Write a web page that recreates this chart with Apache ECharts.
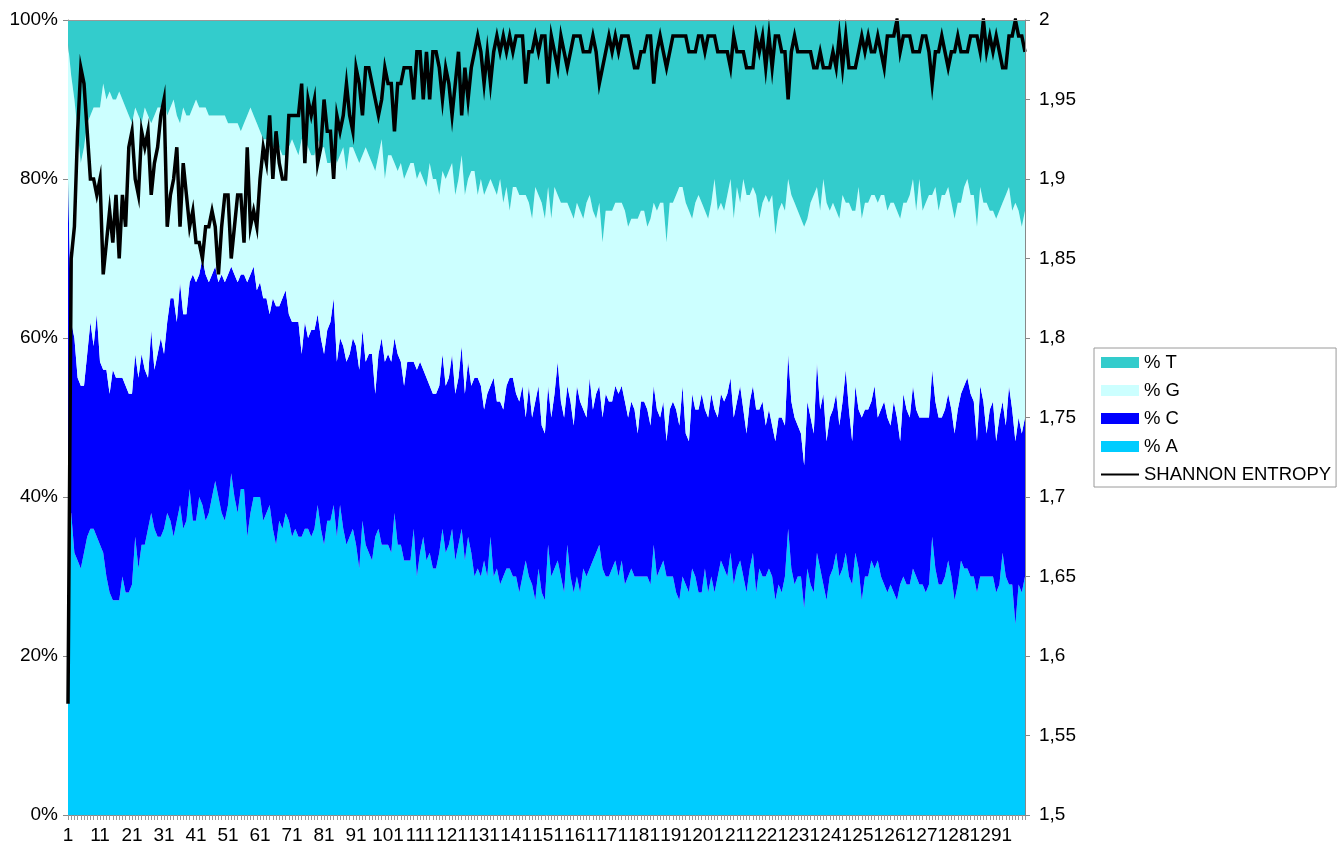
<!DOCTYPE html>
<html>
<head>
<meta charset="utf-8">
<script src="https://cdn.jsdelivr.net/npm/echarts@6/dist/echarts.min.js"></script>
<style>
html,body{margin:0;padding:0;background:#fff;}
#chart{width:1341px;height:850px;}
</style>
</head>
<body>
<div id="chart"></div>
<script>
// Position categories 1..300
const positions = Array.from({length: 300}, (_, i) => String(i + 1));

const pctA = [
38,38,33,32,31,33,35,36,36,35, 34,33,30,28,27,27,27,30,28,28,
29,35,31,34,34,36,38,36,35,35, 36,38,37,35,37,39,36,37,41,37,
37,40,39,37,38,40,42,40,38,37, 39,43,40,38,41,41,35,38,40,40,
40,37,38,39,36,34,37,36,38,37, 35,36,35,35,36,36,35,36,39,36,
34,37,37,39,35,39,36,34,35,36, 34,31,37,34,33,32,35,36,34,34,
34,33,38,34,34,32,32,32,36,30, 33,35,32,33,31,31,33,36,33,34,
36,32,34,36,32,35,33,30,31,30, 32,30,35,30,31,29,30,31,31,30,
30,28,30,32,30,29,27,31,28,27, 34,30,31,32,30,28,34,30,28,30,
28,31,30,31,32,33,34,31,30,30, 31,32,30,32,29,30,31,30,30,30,
30,30,29,34,30,31,32,30,30,30, 28,27,30,29,28,31,30,28,28,31,
28,30,28,30,32,31,30,33,29,31, 32,30,28,31,33,28,31,30,30,31,
30,27,29,28,30,36,31,29,30,30, 26,31,29,28,33,31,29,27,30,31,
33,30,31,33,30,29,33,31,27,30, 30,32,31,32,30,29,28,29,28,27,
29,30,29,29,31,30,29,29,28,29, 35,31,29,29,30,32,30,27,29,32,
31,31,30,30,28,30,30,30,30,30, 28,29,33,30,29,29,24,29,28,30
];
const pctC = [
42,24,27,23,23,21,23,26,23,28, 23,23,26,25,29,28,28,25,26,25,
24,23,24,24,22,19,23,20,23,25, 22,24,28,30,25,28,27,26,26,31,
30,28,31,31,29,28,27,27,30,30, 29,26,28,29,27,27,32,30,29,26,
27,28,27,24,29,30,27,29,28,26, 27,26,27,23,26,24,26,25,24,24,
24,24,25,26,22,21,23,23,23,24, 25,25,24,23,25,26,18,22,26,23,
24,24,22,24,23,22,25,25,21,26, 24,21,23,21,22,22,21,22,21,21,
22,21,21,23,21,22,21,25,24,24, 19,23,19,25,21,23,21,23,24,25,
23,24,24,18,24,21,25,23,21,21, 20,20,22,25,22,22,20,22,21,24,
24,20,20,24,19,20,20,19,23,22, 21,22,23,22,23,20,21,21,18,22,
22,21,20,20,21,19,20,17,21,22, 23,22,24,19,19,22,21,23,25,20,
22,23,23,20,21,21,23,22,21,21, 22,21,20,21,21,23,20,22,19,20,
19,20,21,22,19,22,21,21,19,18, 18,21,21,20,24,20,24,20,20,20,
20,19,21,23,21,18,21,20,23,21, 21,20,23,18,21,23,22,20,24,23,
18,23,22,21,23,21,21,21,22,21, 21,21,21,21,21,21,21,21,22,21,
23,24,23,22,19,24,22,18,21,22, 19,21,19,19,25,22,23,21,20,20
];
const pctG = [
17,31,30,31,28,30,29,26,30,26, 32,36,34,38,34,35,36,35,35,35,
34,31,33,29,33,33,26,32,31,29, 32,26,24,25,26,20,26,25,21,21,
23,21,19,21,21,20,19,21,20,21, 19,18,19,20,18,19,21,21,19,21,
19,20,20,22,19,20,20,18,17,21, 23,22,21,27,23,24,22,22,22,24,
26,21,20,19,25,23,25,24,26,24, 24,26,22,27,25,24,28,25,25,23,
25,26,22,23,25,26,24,25,25,24, 24,24,24,28,27,27,24,23,26,26,
24,25,25,24,25,23,27,26,23,26, 27,26,26,24,26,28,26,25,21,24,
26,26,24,28,23,25,27,24,28,27, 25,25,26,21,25,27,23,24,26,23,
24,24,27,23,25,22,23,22,23,24, 24,23,24,23,24,24,23,24,27,24,
24,23,26,23,25,27,25,25,26,25, 27,30,25,29,29,22,26,27,24,25,
25,24,29,26,24,24,25,25,25,27, 23,29,30,26,25,27,24,25,29,26,
29,26,26,27,27,22,26,27,27,27, 30,23,27,30,22,25,27,30,26,26,
23,26,26,21,26,29,22,28,25,26, 26,26,24,27,27,26,26,28,25,26,
28,24,26,28,26,25,30,26,27,28, 22,27,26,28,27,26,26,27,26,24,
25,25,25,26,27,25,25,29,25,24, 28,26,25,29,25,25,30,26,26,26
];
const pctT = [
3,7,10,14,18,16,13,12,11,11, 11,8,10,9,10,10,9,10,11,12,
13,11,12,13,11,12,13,12,11,11, 10,12,11,10,12,13,11,12,12,11,
10,11,11,11,12,12,12,12,12,12, 13,13,13,13,14,13,12,11,12,13,
14,15,15,15,16,16,16,17,17,16, 15,16,17,15,15,16,17,17,15,16,
16,18,18,16,18,17,16,19,16,16, 17,18,17,16,17,18,19,17,15,20,
17,17,18,19,18,20,19,18,18,20, 19,20,21,18,20,20,22,19,20,19,
18,22,20,17,22,20,19,19,22,20, 22,21,20,21,22,20,23,21,24,21,
21,22,22,22,23,25,21,22,23,25, 21,25,21,22,23,23,23,24,25,23,
24,25,23,22,24,25,23,28,24,24, 24,23,23,23,24,26,25,25,25,24,
24,26,25,23,24,23,23,28,23,23, 22,21,21,23,24,25,23,22,23,24,
25,23,20,24,23,24,22,20,25,21, 23,20,22,22,21,22,25,23,22,23,
22,27,24,23,24,20,22,23,24,25, 26,25,23,22,21,24,20,23,24,23,
24,25,22,23,23,24,24,21,25,23, 23,22,22,23,22,22,24,23,23,24,
25,23,23,22,20,24,20,24,23,22, 22,21,24,22,22,21,23,25,23,23,
21,20,22,22,26,21,23,23,24,24, 25,24,23,22,21,24,23,24,26,24
];
const entropy = [
1.57,1.85,1.87,1.93,1.97,1.96,1.93,1.90,1.90,1.89, 1.90,1.84,1.86,1.88,1.86,1.89,1.85,1.89,1.87,1.92,
1.93,1.90,1.89,1.93,1.92,1.93,1.89,1.91,1.92,1.94, 1.95,1.87,1.89,1.90,1.92,1.87,1.91,1.89,1.87,1.88,
1.86,1.86,1.85,1.87,1.87,1.88,1.87,1.84,1.87,1.89, 1.89,1.85,1.87,1.89,1.89,1.86,1.92,1.87,1.88,1.87,
1.90,1.92,1.91,1.94,1.90,1.93,1.91,1.90,1.90,1.94, 1.94,1.94,1.94,1.96,1.91,1.95,1.94,1.95,1.91,1.92,
1.95,1.93,1.93,1.90,1.94,1.93,1.94,1.96,1.94,1.93, 1.97,1.96,1.94,1.97,1.97,1.96,1.95,1.94,1.95,1.97,
1.96,1.96,1.93,1.96,1.96,1.97,1.97,1.97,1.95,1.98, 1.98,1.95,1.98,1.95,1.98,1.98,1.97,1.95,1.97,1.96,
1.94,1.96,1.98,1.94,1.97,1.95,1.97,1.98,1.99,1.98, 1.96,1.98,1.96,1.98,1.99,1.98,1.99,1.98,1.99,1.98,
1.99,1.99,1.99,1.96,1.98,1.98,1.99,1.98,1.99,1.99, 1.96,1.99,1.98,1.97,1.99,1.98,1.97,1.98,1.99,1.99,
1.99,1.98,1.98,1.98,1.99,1.98,1.96,1.97,1.98,1.99, 1.98,1.99,1.98,1.99,1.99,1.99,1.98,1.97,1.97,1.98,
1.98,1.99,1.99,1.96,1.98,1.99,1.98,1.97,1.98,1.99, 1.99,1.99,1.99,1.99,1.98,1.98,1.98,1.99,1.99,1.98,
1.99,1.99,1.99,1.98,1.98,1.98,1.98,1.97,1.99,1.98, 1.98,1.98,1.97,1.97,1.97,1.99,1.98,1.99,1.97,1.99,
1.97,1.99,1.99,1.98,1.98,1.95,1.98,1.99,1.98,1.98, 1.98,1.98,1.98,1.97,1.97,1.98,1.97,1.97,1.97,1.98,
1.97,1.99,1.97,1.99,1.97,1.97,1.97,1.98,1.99,1.98, 1.99,1.98,1.98,1.99,1.98,1.97,1.99,1.99,1.99,2.00,
1.98,1.99,1.99,1.99,1.98,1.98,1.98,1.99,1.99,1.98, 1.96,1.98,1.98,1.99,1.98,1.97,1.98,1.98,1.99,1.98,
1.98,1.98,1.99,1.99,1.99,1.98,2.00,1.98,1.99,1.98, 1.99,1.98,1.97,1.97,1.99,1.99,2.00,1.99,1.99,1.98
];

const seriesNames = ['% A', '% C', '% G', '% T'];
const seriesColors = ['#00CCFF', '#0000FF', '#CCFFFF', '#33CCCC'];
const raw = [pctA, pctC, pctG, pctT];

// 100% stacking: normalise each position to a total of 100
const totals = positions.map((_, i) => raw.reduce((s, arr) => s + arr[i], 0));
const norm = raw.map(arr => arr.map((v, i) => v / totals[i] * 100));

const FONT = 'Liberation Sans, Arial, sans-serif';
const FS = 19;

const areaSeries = seriesNames.map((name, k) => ({
  name: name,
  type: 'line',
  stack: 'bases',
  data: norm[k],
  symbol: 'none',
  lineStyle: { width: 0, color: seriesColors[k] },
  itemStyle: { color: seriesColors[k] },
  areaStyle: { color: seriesColors[k], opacity: 1 },
  emphasis: { disabled: true },
  z: 2
}));

const chart = echarts.init(document.getElementById('chart'), null, { renderer: 'canvas' });
chart.setOption({
  animation: false,
  backgroundColor: '#ffffff',
  textStyle: { fontFamily: FONT },
  grid: { left: 68, right: 316, top: 20, bottom: 35 },
  legend: {
    orient: 'vertical',
    left: 1094,
    top: 348,
    padding: [5, 5, 3, 6],
    borderColor: '#9a9a9a',
    borderWidth: 1,
    itemWidth: 38,
    itemHeight: 11,
    itemGap: 9,
    textStyle: { fontFamily: FONT, fontSize: 18.5, color: '#000' },
    data: [
      { name: '% T', icon: 'rect' },
      { name: '% G', icon: 'rect' },
      { name: '% C', icon: 'rect' },
      { name: '% A', icon: 'rect' },
      { name: 'SHANNON ENTROPY', itemStyle: { color: 'rgba(0,0,0,0)', borderWidth: 0, opacity: 0 } }
    ]
  },
  xAxis: [
    {
      type: 'category',
      data: positions,
      boundaryGap: false,
      axisLine: { show: true, lineStyle: { color: '#888', width: 1 } },
      axisTick: { show: true, interval: 0, length: 5, lineStyle: { color: '#999' } },
      axisLabel: { interval: 9, fontFamily: FONT, fontSize: FS, color: '#000', margin: 11 },
      splitLine: { show: false }
    },
    {
      type: 'category',
      data: positions,
      boundaryGap: false,
      position: 'top',
      z: 10,
      axisLine: { show: true, lineStyle: { color: '#999', width: 1 } },
      axisTick: { show: false },
      axisLabel: { show: false },
      splitLine: { show: false }
    }
  ],
  yAxis: [
    {
      type: 'value', min: 0, max: 100, interval: 20,
      axisLine: { show: true, lineStyle: { color: '#888' } },
      axisTick: { show: true, length: 5, lineStyle: { color: '#888' } },
      axisLabel: { formatter: '{value}%', fontFamily: FONT, fontSize: FS, color: '#000', margin: 10 },
      splitLine: { show: false }
    },
    {
      type: 'value', min: 1.5, max: 2, interval: 0.05, position: 'right',
      z: 10,
      axisLine: { show: true, lineStyle: { color: '#888' } },
      axisTick: { show: true, length: 5, lineStyle: { color: '#888' } },
      axisLabel: {
        formatter: v => String(+v.toFixed(2)).replace('.', ','),
        fontFamily: FONT, fontSize: FS, color: '#000', margin: 14
      },
      splitLine: { show: false }
    }
  ],
  series: areaSeries.concat([{
    name: 'SHANNON ENTROPY',
    type: 'line',
    yAxisIndex: 1,
    data: entropy,
    symbol: 'none',
    lineStyle: { color: '#000', width: 3.5, join: 'miter' },
    itemStyle: { color: '#000' },
    emphasis: { disabled: true },
    z: 5
  }])
});
</script>
</body>
</html>
